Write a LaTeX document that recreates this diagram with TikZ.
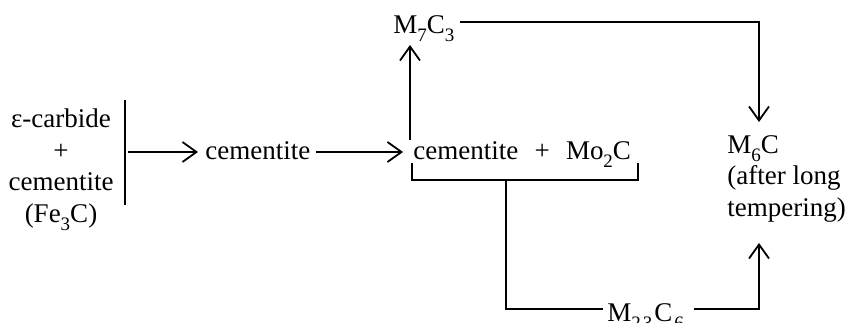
\documentclass[tikz,border=0pt]{standalone}
\usepackage{fontspec}
\setmainfont{Liberation Serif}
\usetikzlibrary{arrows.meta,calc}
\newcommand\chs[1]{\raisebox{-0.32em}{\fontsize{9.5}{9.5}\selectfont #1}}
\begin{document}
\begin{tikzpicture}[x=0.5pt,y=-0.5pt,
  lbl/.style={inner sep=0pt,font=\fontsize{13.5}{15.75}\selectfont},
  ln/.style={line width=0.9pt},
  arr/.style={ln,-{Straight Barb[length=7pt,width=10pt,line width=0.9pt]}}]
\useasboundingbox (0,0) rectangle (850,322);
% nodes
\node[lbl,anchor=north,align=center] (eps) at (61,108.5) {ε-carbide\\+\\cementite\\(Fe\chs{3}C)};
\node[lbl,anchor=base west] (cem1) at (205,159) {cementite};
\node[lbl,anchor=base west] (cem2) at (413,159) {cementite\hspace{0.6em}+\hspace{0.6em}Mo\chs{2}C};
\node[lbl,anchor=base west] (m7) at (393,33) {M\chs{7}C\chs{3}};
\node[lbl,anchor=north west,align=left] (m6) at (727,135) {M\chs{6}C\\(after long\\tempering)};
\node[lbl,anchor=base west] (m23) at (607,321) {M\chs{2\kern1pt3}\kern1pt C\chs{\kern1pt 6}};
% coordinates
\coordinate (bartop) at (125,100);
\coordinate (barbot) at (125,205);
\coordinate (barmid) at (125,152);
\coordinate (upfoot) at (410,140);
\coordinate (uptip) at (410,45);
\coordinate (m7end) at (759,22);
\coordinate (m6top) at (759,122);
\coordinate (brL) at (412,163);
\coordinate (brR) at (638,163);
\coordinate (brlow) at (0,180);
\coordinate (drop) at (506,180);
\coordinate (low) at (0,309);
\coordinate (m6bot) at (759,243);
% connectors
\draw[line width=1pt] (bartop) -- (barbot);
\draw[arr] ([xshift=1.5pt]barmid) -- ([xshift=-3.5pt]cem1.west |- barmid);
\draw[arr] ([xshift=2.5pt]cem1.east |- barmid) -- ([xshift=-5pt]cem2.west |- barmid);
\draw[arr] (upfoot) -- (uptip);
\draw[arr] ([xshift=2.5pt]m7.east |- m7end) -- (m7end) -- (m6top);
\draw[ln] (brL) -- (brL |- brlow) -- (brR |- brlow) -- (brR);
\draw[ln] (drop) -- (drop |- low) -- ([xshift=-2pt]m23.west |- low);
\draw[arr] ([xshift=5pt]m23.east |- low) -- (m6top |- low) -- (m6bot);
\end{tikzpicture}
\end{document}
